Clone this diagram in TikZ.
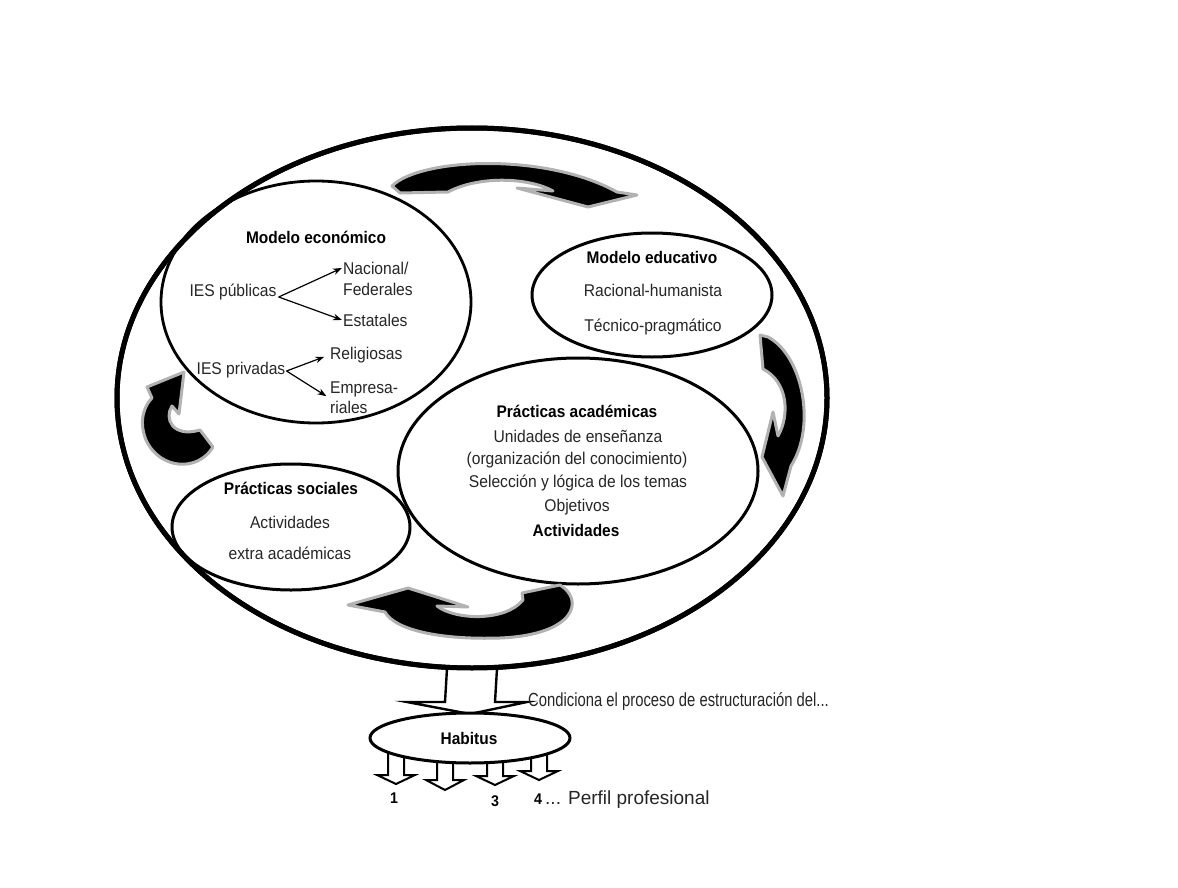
\documentclass[tikz,border=0pt]{standalone}
\usepackage{fontspec}
\setmainfont{Liberation Sans}[FakeStretch=0.92]
\newfontfamily\condfont{Liberation Sans}[FakeStretch=0.78]
\newfontfamily\plainfont{Liberation Sans}
\usetikzlibrary{arrows.meta,calc,shapes.geometric}
\newcommand\dnarrow[4]{%
  \draw[hollow, line width=2pt] (#1-8,#2) -- (#1-8,#3) -- (#1-19,#3) -- (#1,#4) -- (#1+19,#3) -- (#1+8,#3) -- (#1+8,#2);}
\begin{document}
\begin{tikzpicture}[x=1pt,y=-1pt,
  oval/.style={draw, ellipse, inner sep=0pt, line width=3pt},
  txt/.style={inner sep=1pt, text=black!85, font=\fontsize{17}{20}\selectfont},
  hd/.style={inner sep=1pt, text=black, font=\fontsize{16.8}{20}\selectfont\bfseries},
  num/.style={inner sep=1pt, text=black, font=\fontsize{15.5}{18}\selectfont\bfseries},
  curvarr/.style={fill=black, draw=gray!60, line width=3pt, line join=round},
  hollow/.style={draw=black, fill=white, line width=2.4pt, line join=miter, miter limit=20},
  forkarr/.style={-{Stealth[length=9pt,width=6.5pt]}, line width=1.2pt}]
\fill[white] (0,0) rectangle (1178,888);
\useasboundingbox (0,0) rectangle (1178,888);

% ellipses
\node[oval, line width=5pt, minimum width=710pt, minimum height=540pt] (outer) at (472,398) {};
\node[oval, line width=2.8pt, minimum width=310pt, minimum height=242pt] (me) at (316,302) {};
\node[oval, minimum width=240pt, minimum height=124pt] (med) at (652,295) {};
\node[oval, minimum width=360pt, minimum height=226pt] (pa) at (578,471) {};
\node[oval, minimum width=238pt, minimum height=126pt] (ps) at (291,527) {};

% curved block arrows
\path[curvarr] (392,186) .. controls (420,158) and (545,152) .. (617,192) -- (637,195) -- (588,207) -- (517,188) -- (553,191) .. controls (530,178) and (480,175) .. (448,192) -- (400,193) -- cycle;
\path[curvarr] (760,335) -- (768,337) .. controls (802,355) and (817,425) .. (791,466) -- (783,496) -- (762,457) -- (773,412) -- (778,436) .. controls (790,415) and (788,382) .. (763,369) -- cycle;
\path[curvarr] (560,585) .. controls (585,600) and (575,635) .. (500,638) .. controls (440,640) and (395,630) .. (385,612) -- (348,605) -- (408,588) -- (468,607) -- (437,606) .. controls (455,620) and (505,622) .. (523,600) -- (522,593) -- cycle;
\path[curvarr] (213,447) .. controls (198,472) and (160,470) .. (146,440) .. controls (138,420) and (145,405) .. (152,398) -- (147,387) -- (184,372) -- (179,414) -- (172,406) .. controls (164,418) and (172,438) .. (200,430) -- cycle;

% Modelo economico
\node[hd] (meT) at (316,237) {Modelo económico};
\node[txt] (pub) at (233,292) {IES públicas};
\node[txt, anchor=west] (nac) at (342,268) {Nacional/};
\node[txt, anchor=west] (fed) at (342,289) {Federales};
\node[txt, anchor=west] (est) at (342,320) {Estatales};
\node[txt] (priv) at (241,370) {IES privadas};
\node[txt, anchor=west] (rel) at (329,355) {Religiosas};
\node[txt, anchor=west] (emp) at (329,389) {Empresa-};
\node[txt, anchor=west] (ria) at (329,407) {riales};
\coordinate (pubfork) at ($(pub.east)+(1,5)$);
\coordinate (privfork) at ($(priv.east)+(0,1)$);
\draw[forkarr] (pubfork) -- (nac.west);
\draw[forkarr] (pubfork) -- (est.west);
\draw[forkarr, shorten >=5pt] (privfork) -- (rel.west);
\draw[forkarr, shorten >=3pt] (privfork) -- (emp.south west);

% Modelo educativo
\node[hd] (medT) at (652,257) {Modelo educativo};
\node[txt] (rh) at (653,290) {Racional-humanista};
\node[txt] (tp) at (653,327) {Técnico-pragmático};

% Practicas academicas
\node[hd] (paT) at (577,411) {Prácticas académicas};
\node[txt] (pa1) at (578,436) {Unidades de enseñanza};
\node[txt] (pa2) at (577,460) {(organización del conocimiento)};
\node[txt] (pa3) at (578,483) {Selección y lógica de los temas};
\node[txt] (pa4) at (577,507) {Objetivos};
\node[hd] (pa5) at (576,530) {Actividades};

% Practicas sociales
\node[hd] (psT) at (291,488) {Prácticas sociales};
\node[txt] (ps1) at (290,522) {Actividades};
\node[txt] (ps2) at (290,553) {extra académicas};

% Habitus and arrows
\coordinate (habtop) at (470,714);
\draw[hollow] ($(outer.south)+(-25,-2)$) -- ($(habtop)+(-25,-12)$) -- ($(habtop)+(-63,-12)$) -- (habtop) -- ($(habtop)+(57,-12)$) -- ($(habtop)+(25,-12)$) -- ($(outer.south)+(25,-2)$);
\node[oval, line width=5pt, minimum width=710pt, minimum height=540pt] at (472,398) {};
\dnarrow{396}{745}{775}{784}
\dnarrow{445}{745}{780}{790}
\dnarrow{495}{745}{776}{785}
\dnarrow{539}{745}{771}{780}
\node[oval, fill=white, minimum width=200pt, minimum height=50pt] (hab) at (470,738) {};
\node[hd] (habT) at (469,738) {Habitus};

\node[anchor=west, inner sep=0pt, text=black!85, font=\condfont\fontsize{19}{22}\selectfont] (cond) at (528,701) {Condiciona el proceso de estructuración del...};

\node[num] (n1) at (394,798) {1};
\node[num] (n3) at (495,801) {3};
\node[num] (n4) at (538,799) {4};
\node[anchor=west, inner sep=0pt, text=black!85, font=\plainfont\fontsize{19}{22}\selectfont] (perfil) at (545,800) {... Perfil profesional};
\end{tikzpicture}
\end{document}
